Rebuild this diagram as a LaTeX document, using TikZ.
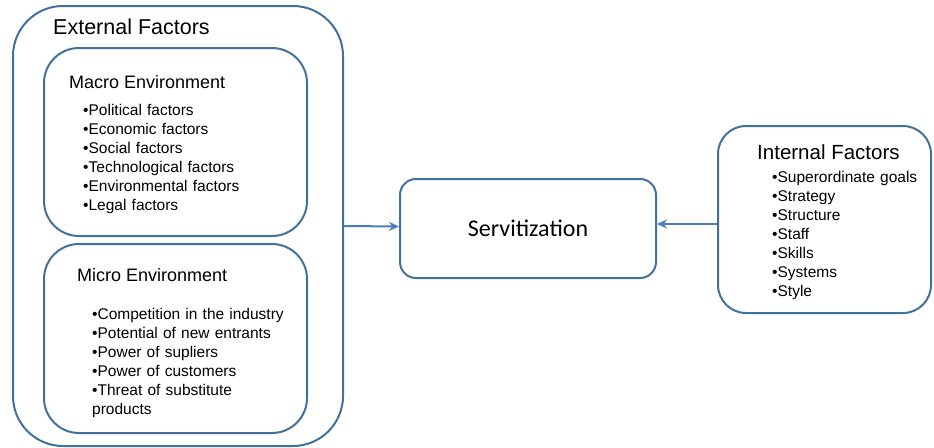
\documentclass[tikz,border=0pt]{standalone}
\usepackage{fontspec}
\setmainfont{Liberation Sans}
\newfontfamily\servfont{Carlito}
\usetikzlibrary{arrows.meta}

\definecolor{frameblue}{HTML}{41719C}
\definecolor{linkblue}{HTML}{4A7EBB}

\begin{document}
\begin{tikzpicture}[x=1pt, y=-1pt, node distance=19pt,
	box/.style={draw=frameblue, line width=2pt, anchor=north west, inner sep=0pt},
	title/.style={anchor=base west, inner sep=0pt},
	item/.style={font=\fontsize{15.5}{19}\selectfont, text width=200pt, align=left, inner sep=0pt, text height=11pt, text depth=3.5pt},
	link/.style={draw=linkblue, line width=2pt, -{Stealth[length=10pt, width=9pt]}}]

	\useasboundingbox (0,0) rectangle (934,447);

	% boxes
	\node [box, rounded corners=50pt, minimum width=330pt, minimum height=440pt] (external) at (12,5) {};
	\node [box, rounded corners=35pt, minimum width=263pt, minimum height=188pt] (macro) at (43,47) {};
	\node [box, rounded corners=35pt, minimum width=263pt, minimum height=189pt] (micro) at (43,243) {};
	\node [box, rounded corners=16pt, minimum width=256pt, minimum height=99pt, font=\servfont\fontsize{24}{28}\selectfont] (servitization) at (399,178) {Servitization};
	\node [box, rounded corners=28pt, minimum width=213pt, minimum height=187pt] (internal) at (717,125) {};

	% titles
	\node [title, font=\fontsize{21.5}{26}\selectfont] (exttitle) at (53,34) {External Factors};
	\node [title, font=\fontsize{18}{22}\selectfont] (macrotitle) at (69,88) {Macro Environment};
	\node [title, font=\fontsize{18}{22}\selectfont] (microtitle) at (77,281) {Micro Environment};
	\node [title, font=\fontsize{20.5}{25}\selectfont] (inttitle) at (757,159) {Internal Factors};

	% macro environment
	\node [item, anchor=base west] (political) at (83,115) {•Political factors};
	\node [item, below of=political] (economic) {•Economic factors};
	\node [item, below of=economic] (social) {•Social factors};
	\node [item, below of=social] (technological) {•Technological factors};
	\node [item, below of=technological] (environmental) {•Environmental factors};
	\node [item, below of=environmental] (legal) {•Legal factors};

	% micro environment
	\node [item, anchor=base west] (competition) at (92,319) {•Competition in the industry};
	\node [item, below of=competition] (entrants) {•Potential of new entrants};
	\node [item, below of=entrants] (suppliers) {•Power of supliers};
	\node [item, below of=suppliers] (customers) {•Power of customers};
	\node [item, below of=customers] (substitutes) {•Threat of substitute};
	\node [item, below of=substitutes] (products) {products};

	% internal factors
	\node [item, anchor=base west] (goals) at (772,182) {•Superordinate goals};
	\node [item, below of=goals] (strategy) {•Strategy};
	\node [item, below of=strategy] (structure) {•Structure};
	\node [item, below of=structure] (staff) {•Staff};
	\node [item, below of=staff] (skills) {•Skills};
	\node [item, below of=skills] (systems) {•Systems};
	\node [item, below of=systems] (style) {•Style};

	% links
	\coordinate (intlink) at ([yshift=-4.5pt]internal.west);
	\draw [link] (external.east) -- ([yshift=2pt]servitization.west);
	\draw [link] (intlink) -- (servitization.east |- intlink);

\end{tikzpicture}
\end{document}
